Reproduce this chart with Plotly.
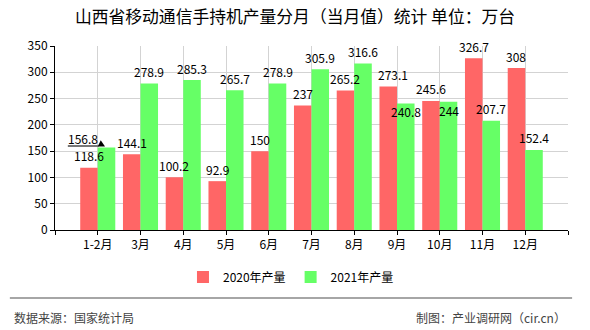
import plotly.graph_objects as go

categories = ["1-2月", "3月", "4月", "5月", "6月", "7月", "8月", "9月", "10月", "11月", "12月"]
values_2020 = [118.6, 144.1, 100.2, 92.9, 150, 237, 265.2, 273.1, 245.6, 326.7, 308]
values_2021 = [156.8, 278.9, 285.3, 265.7, 278.9, 305.9, 316.6, 240.8, 244, 207.7, 152.4]
series_names = ["2020年产量", "2021年产量"]
y_ticks = [0, 50, 100, 150, 200, 250, 300, 350]

FONT = "Noto Sans CJK SC"
RED = "#FF6666"
GREEN = "#66FF66"
GRID = "#D3D3D3"
OFF = 0.205  # half of a bar width in category units

xs = list(range(len(categories)))

fig = go.Figure()
fig.add_trace(go.Bar(x=[i - OFF for i in xs], y=values_2020, name=series_names[0],
                     marker=dict(color=RED, line=dict(width=0)), width=0.41))
fig.add_trace(go.Bar(x=[i + OFF for i in xs], y=values_2021, name=series_names[1],
                     marker=dict(color=GREEN, line=dict(width=0)), width=0.41))

# label adjustments (pixel shifts) for labels displaced in the original
adj_2020 = {7: (5, 12)}
adj_2021 = {0: (-24, 9), 7: (0, -8), 8: (0, -9)}

annotations = []
for i, v in enumerate(values_2020):
    dx, dy = adj_2020.get(i, (0, 12))
    annotations.append(dict(x=i - OFF, y=v, xref="x", yref="y", text=f"{v:g}", showarrow=False,
                            xshift=dx, yshift=dy, yanchor="middle",
                            font=dict(family=FONT, size=12, color="black")))
for i, v in enumerate(values_2021):
    dx, dy = adj_2021.get(i, (0, 12))
    annotations.append(dict(x=i + OFF, y=v, xref="x", yref="y", text=f"{v:g}", showarrow=False,
                            xshift=dx, yshift=dy, yanchor="middle",
                            font=dict(family=FONT, size=12, color="black")))

# leader line + arrow head for the displaced 156.8 label
ly = values_2021[0] + 3
shapes = [dict(type="line", xref="x", yref="y", x0=-0.7, x1=0.02, y0=ly, y1=ly,
               line=dict(color="#777777", width=2)),
          dict(type="path", xref="x", yref="y",
               path=f"M 0.0,{ly - 1} L 0.17,{ly - 1} L 0.07,{ly + 11} Z",
               fillcolor="black", line=dict(color="black", width=0))]

# footer
shapes.append(dict(type="line", xref="paper", yref="paper", x0=-0.088, x1=1.008, y0=-0.37, y1=-0.37,
                   line=dict(color="#888888", width=1.5)))
annotations.append(dict(x=-0.084, y=-0.473, xref="paper", yref="paper", text="数据来源：国家统计局",
                        showarrow=False, xanchor="left", yanchor="middle",
                        font=dict(family=FONT, size=12, color="#444444")))
annotations.append(dict(x=1.0, y=-0.473, xref="paper", yref="paper", text="制图：产业调研网（cir.cn）",
                        showarrow=False, xanchor="right", yanchor="middle",
                        font=dict(family=FONT, size=12, color="#444444")))

fig.update_layout(
    width=590, height=330,
    margin=dict(l=55, r=22, t=46, b=100),
    paper_bgcolor="white", plot_bgcolor="white",
    barmode="overlay",
    title=dict(text="山西省移动通信手持机产量分月（当月值）统计 单位：万台", x=0.5, xref="container",
               y=1 - 17 / 330, yref="container", yanchor="middle", xanchor="center",
               font=dict(family=FONT, size=16.8, color="black")),
    font=dict(family=FONT, size=12, color="black"),
    legend=dict(orientation="h", x=0.46, y=-0.255, xanchor="center", yanchor="middle",
                font=dict(family=FONT, size=12, color="black"), itemwidth=30),
    annotations=annotations,
    shapes=shapes,
    showlegend=True,
)
fig.update_xaxes(range=[-1, 11], tickmode="array", tickvals=list(range(-1, len(categories) + 1)),
                 ticktext=[""] + categories + [""], showgrid=True, gridcolor=GRID, gridwidth=1,
                 zeroline=False, showline=True, linecolor="black", linewidth=1,
                 ticks="outside", ticklen=4, tickcolor="black",
                 tickfont=dict(family=FONT, size=12, color="black"))
fig.update_yaxes(range=[0, 350], tickmode="array", tickvals=y_ticks, showgrid=True, gridcolor=GRID,
                 gridwidth=1, zeroline=False, showline=True, linecolor="black", linewidth=1,
                 ticks="outside", ticklen=4, tickcolor="black",
                 tickfont=dict(family=FONT, size=12, color="black"))

fig.write_html("out.html")
